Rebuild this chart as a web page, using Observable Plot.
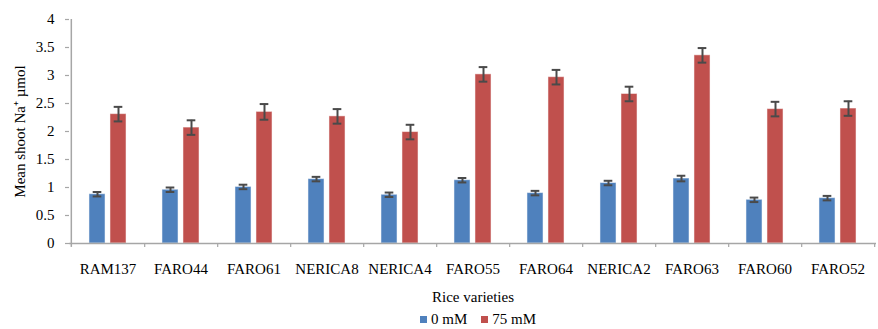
<!DOCTYPE html>
<html>
<head>
<meta charset="utf-8">
<script src="https://cdn.jsdelivr.net/npm/d3@7"></script>
<script src="https://cdn.jsdelivr.net/npm/@observablehq/plot@0.6"></script>
<style>
  html, body { margin: 0; padding: 0; background: #fff; }
  #chart { position: relative; width: 878px; height: 329px; font-family: 'Liberation Serif', serif; }
  #chart svg, #chart svg text { font-family: 'Liberation Serif', serif !important; }
  #legend { position: absolute; left: 420px; top: 311px; font-size: 15px; color: #000; display: flex; align-items: center; white-space: nowrap; }
  #legend .sw { display: inline-block; width: 7px; height: 7px; margin-right: 4px; }
  #legend .item { display: inline-flex; align-items: center; margin-right: 14px; }
</style>
</head>
<body>
<div id="chart"></div>
<script>
const varieties = ["RAM137","FARO44","FARO61","NERICA8","NERICA4","FARO55","FARO64","NERICA2","FARO63","FARO60","FARO52"];
const treatments = ["0 mM", "75 mM"];
const na0  = [0.88, 0.96, 1.01, 1.15, 0.87, 1.13, 0.90, 1.08, 1.16, 0.78, 0.81];
const err0 = [0.04, 0.04, 0.04, 0.04, 0.04, 0.04, 0.04, 0.04, 0.05, 0.04, 0.04];
const na75  = [2.31, 2.07, 2.35, 2.27, 1.99, 3.02, 2.97, 2.67, 3.36, 2.40, 2.41];
const err75 = [0.13, 0.13, 0.14, 0.13, 0.13, 0.13, 0.13, 0.13, 0.13, 0.13, 0.13];
const yTicks = [0, 0.5, 1, 1.5, 2, 2.5, 3, 3.5, 4];
const colors = ["#4f81bd", "#c0504d"];

const d0 = varieties.map((v, i) => ({variety: v, value: na0[i], err: err0[i]}));
const d75 = varieties.map((v, i) => ({variety: v, value: na75[i], err: err75[i]}));

const W = 878, ML = 69, MR = 2;
const bw = (W - ML - MR) / varieties.length;
const barW = 16.4, gap = 4.6;
const outer = (bw - 2 * barW - gap) / 2;
const off = (barW + gap) / 2;
const capW = 9;
const capInset = (bw - capW) / 2;
const axisColor = "#a6a6a6";
const errColor = "#4a4a4a";

function errMarks(data, dx) {
  return [
    Plot.ruleX(data, {x: "variety", y1: d => d.value - d.err, y2: d => d.value + d.err, dx, stroke: errColor, strokeWidth: 2}),
    Plot.tickY(data, {x: "variety", y: d => d.value - d.err, dx, insetLeft: capInset, insetRight: capInset, stroke: errColor, strokeWidth: 2}),
    Plot.tickY(data, {x: "variety", y: d => d.value + d.err, dx, insetLeft: capInset, insetRight: capInset, stroke: errColor, strokeWidth: 2})
  ];
}

const plot = Plot.plot({
  width: W,
  height: 308,
  marginLeft: ML,
  marginRight: MR,
  marginTop: 19,
  marginBottom: 65,
  style: {fontFamily: "'Liberation Serif', serif", fontSize: "15px", color: "#000", background: "#fff"},
  x: {domain: varieties, padding: 0},
  y: {domain: [0, 4]},
  marks: [
    Plot.barY(d0, {x: "variety", y: "value", fill: colors[0], insetLeft: outer, insetRight: outer + barW + gap, stroke: "#fff", strokeOpacity: 0.5, strokeWidth: 1}),
    Plot.barY(d75, {x: "variety", y: "value", fill: colors[1], insetLeft: outer + barW + gap, insetRight: outer, stroke: "#fff", strokeOpacity: 0.5, strokeWidth: 1}),
    ...errMarks(d0, -off),
    ...errMarks(d75, off),
    Plot.ruleY([0], {stroke: axisColor, strokeWidth: 1.5}),
    Plot.ruleX([varieties[0]], {x: d => d, dx: -bw / 2, y1: -0.07, y2: 4, stroke: axisColor, strokeWidth: 1.5}),
    Plot.ruleX(varieties, {x: d => d, dx: bw / 2, y1: 0, y2: -0.07, stroke: axisColor, strokeWidth: 1.2}),
    Plot.axisY({ticks: yTicks, tickFormat: d => String(d), tickSize: 4, tickPadding: 11, stroke: axisColor, strokeWidth: 1.2,
      label: "Mean shoot Na⁺ µmol", labelAnchor: "center", labelArrow: "none", labelOffset: 55, fill: "#000"}),
    Plot.axisX({tickSize: 0, tickPadding: 20, label: "Rice varieties", labelAnchor: "center", labelArrow: "none", labelOffset: 58, fill: "#000"})
  ]
});
const chart = document.getElementById("chart");
chart.appendChild(plot);

const legend = document.createElement("div");
legend.id = "legend";
treatments.forEach((t, i) => {
  const item = document.createElement("span");
  item.className = "item";
  const sw = document.createElement("span");
  sw.className = "sw";
  sw.style.background = colors[i];
  item.appendChild(sw);
  item.appendChild(document.createTextNode(t));
  legend.appendChild(item);
});
chart.appendChild(legend);
</script>
</body>
</html>
